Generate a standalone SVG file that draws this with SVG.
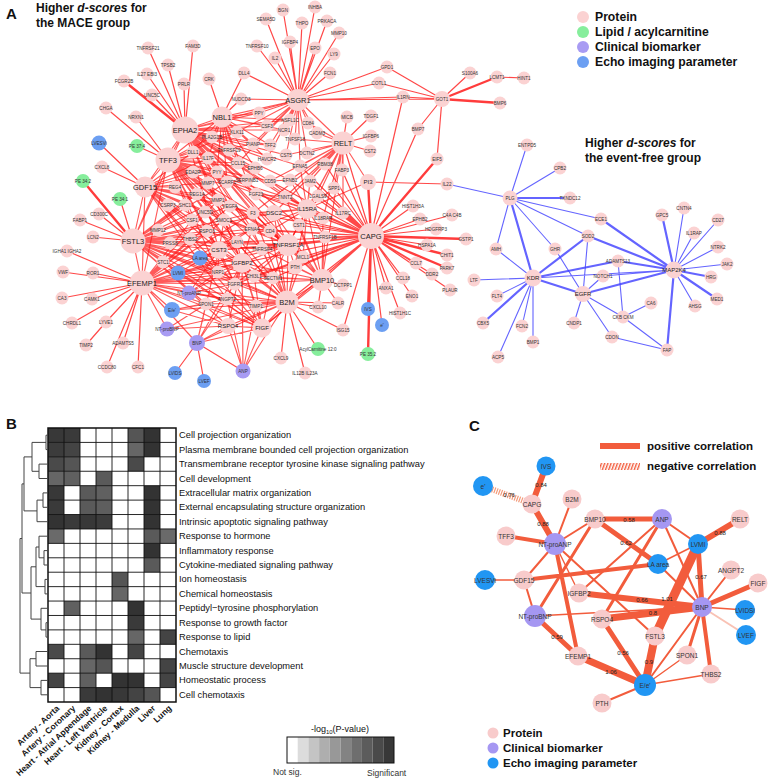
<svg xmlns="http://www.w3.org/2000/svg" width="770" height="784" viewBox="0 0 770 784">
<defs>
<style>
.ff{font-family:'Liberation Sans',Arial,sans-serif}
.p{fill:#fbd2d2}.l{fill:#86ee9c}.c{fill:#a89bf3}.e{fill:#6c9ff2}
.s{font-family:'Liberation Sans',Arial,sans-serif;font-size:4.6px;fill:#333;text-anchor:middle;dominant-baseline:central}
.m{font-family:'Liberation Sans',Arial,sans-serif;font-size:6px;fill:#222;text-anchor:middle;dominant-baseline:central}
.h{font-family:'Liberation Sans',Arial,sans-serif;font-size:7.5px;fill:#222;text-anchor:middle;dominant-baseline:central}
.ttl{font-family:'Liberation Sans',Arial,sans-serif;font-size:12px;font-weight:bold;fill:#111}
.pl{font-family:'Liberation Sans',Arial,sans-serif;font-size:15px;font-weight:bold;fill:#111}
.red{fill:none;stroke:#ff1a1a;stroke-opacity:.72;stroke-width:1.15}
.redw{fill:none;stroke:#ff1a1a;stroke-opacity:.8;stroke-width:1.2}
.redt{fill:none;stroke:#ff1a1a;stroke-opacity:.85;stroke-width:2.4}
.blu{fill:none;stroke:#3d3dff;stroke-opacity:.8;stroke-width:1.1}
.blut{fill:none;stroke:#3d3dff;stroke-opacity:.8;stroke-width:2.2}
.rl{font-family:'Liberation Sans',Arial,sans-serif;font-size:9.3px;fill:#111;dominant-baseline:central}
.cl{font-family:'Liberation Sans',Arial,sans-serif;font-size:8.5px;font-weight:bold;fill:#111;text-anchor:end}
.cp{fill:#f8cbcb}.cc{fill:#a597f2}.ce{fill:#2196f3}
.ct{font-family:'Liberation Sans',Arial,sans-serif;font-size:6.5px;fill:#333;text-anchor:middle;dominant-baseline:central}
.ew{font-family:'Liberation Sans',Arial,sans-serif;font-size:6px;fill:#222;text-anchor:middle;dominant-baseline:central}
.lg{font-family:'Liberation Sans',Arial,sans-serif;font-size:11.5px;font-weight:bold;fill:#111;dominant-baseline:central}
.lga{font-family:'Liberation Sans',Arial,sans-serif;font-size:12.2px;font-weight:bold;fill:#111;dominant-baseline:central}
.ce1{stroke:#f25c3c;fill:none}
</style>
<pattern id="hatch" width="3" height="3" patternUnits="userSpaceOnUse" patternTransform="rotate(20)"><rect width="1.4" height="3" fill="#f25c3c"/></pattern>
</defs>
<rect width="770" height="784" fill="#fff"/>

<!-- ================= PANEL A ================= -->
<text class="pl" x="6" y="19">A</text>
<text class="ttl" x="36" y="12">Higher <tspan font-style="italic">d-scores</tspan> for</text>
<text class="ttl" x="36" y="27">the MACE group</text>
<text class="ttl" x="585" y="147">Higher <tspan font-style="italic">d-scores</tspan> for</text>
<text class="ttl" x="585" y="162">the event-free group</text>
<g id="legendA">
<circle class="p" cx="583" cy="17" r="6"/><text class="lga" x="595" y="17">Protein</text>
<circle class="l" cx="583" cy="32" r="6"/><text class="lga" x="595" y="32">Lipid / acylcarnitine</text>
<circle class="c" cx="583" cy="47" r="6"/><text class="lga" x="595" y="47">Clinical biomarker</text>
<circle class="e" cx="583" cy="62" r="6"/><text class="lga" x="595" y="62">Echo imaging parameter</text>
</g>

<g id="connectorsA">
<path class="red" d="M185 130 259 113M185 130 290 120M185 130 267 126M185 130 284 130M185 130 237 132M185 130 212 137M185 130 253 144M185 130 270 145M185 130 229 150M185 130 208 158M185 130 267 159M185 130 286 155M185 130 238 163M185 130 255 168M185 130 300 166M185 130 217 172M185 130 227 182M185 130 247 180M185 130 270 181M185 130 290 180M185 130 208 183M185 130 256 194M185 130 285 197M185 130 218 200M185 130 230 206M185 130 253 213M185 130 274 213M185 130 224 220M185 130 299 225M185 130 252 229M185 130 270 231M185 130 237 242M185 130 262 249M185 130 303 257M185 130 307 209M185 130 288 245M185 130 242 263M185 130 219 250M185 130 222 117M185 130 298 100"/>
<path class="red" d="M168 160 237 132M168 160 212 137M168 160 253 144M168 160 229 150M168 160 193 152M168 160 208 158M168 160 238 163M168 160 255 168M168 160 217 172M168 160 193 172M168 160 227 182M168 160 247 180M168 160 270 181M168 160 208 183M168 160 197 194M168 160 256 194M168 160 218 200M168 160 230 206M168 160 253 213M168 160 205 212M168 160 192 220M168 160 224 220M168 160 252 229M168 160 270 231M168 160 207 231M168 160 237 242M168 160 262 249M168 160 218 272M168 160 254 276M168 160 273 278M168 160 235 284M168 160 242 263M168 160 219 250M168 160 288 245M168 160 287 302M168 160 307 209M168 160 285 197M168 160 185 130M168 160 222 117"/>
<path class="red" d="M145 187 193 152M145 187 208 158M145 187 217 172M145 187 193 172M145 187 227 182M145 187 208 183M145 187 197 194M145 187 175 187M145 187 218 200M145 187 168 205M145 187 185 205M145 187 230 206M145 187 205 212M145 187 192 220M145 187 224 220M145 187 207 231M145 187 190 239M145 187 237 242M145 187 218 272M145 187 235 284M145 187 227 299M145 187 219 250M145 187 242 263M145 187 253 213M145 187 252 229M145 187 168 160M145 187 185 130"/>
<path class="red" d="M133 241 227 182M133 241 208 183M133 241 197 194M133 241 218 200M133 241 185 205M133 241 230 206M133 241 253 213M133 241 205 212M133 241 192 220M133 241 224 220M133 241 158 230M133 241 252 229M133 241 207 231M133 241 190 239M133 241 170 243M133 241 237 242M133 241 262 249M133 241 163 262M133 241 218 272M133 241 254 276M133 241 273 278M133 241 235 284M133 241 227 299M133 241 206 304M133 241 256 306M133 241 228 326M133 241 219 250M133 241 242 263M133 241 288 245M133 241 287 302M133 241 262 328M133 241 200 258M133 241 178 273M133 241 270 231M133 241 274 213M133 241 168 160M133 241 145 187M133 241 185 130"/>
<path class="red" d="M142 283 192 220M142 283 224 220M142 283 207 231M142 283 190 239M142 283 237 242M142 283 262 249M142 283 163 262M142 283 218 272M142 283 254 276M142 283 273 278M142 283 235 284M142 283 227 299M142 283 206 304M142 283 256 306M142 283 228 326M142 283 218 200M142 283 230 206M142 283 253 213M142 283 252 229M142 283 219 250M142 283 242 263M142 283 262 328M142 283 287 302M142 283 288 245M142 283 200 258M142 283 178 273M142 283 189 293M142 283 172 310M142 283 167 329M142 283 197 343M142 283 295 267M142 283 133 241M142 283 168 160M142 283 145 187"/>
<path class="redw" d="M371 236 300 166M371 236 325 164M371 236 342 170M371 236 270 181M371 236 290 180M371 236 310 181M371 236 256 194M371 236 285 197M371 236 318 196M371 236 334 188M371 236 253 213M371 236 274 213M371 236 343 213M371 236 299 225M371 236 323 218M371 236 252 229M371 236 270 231M371 236 325 237M371 236 262 249M371 236 303 257M371 236 254 276M371 236 273 278M371 236 295 267M371 236 307 209M371 236 288 245M371 236 287 302M371 236 322 280M371 236 343 143M371 236 242 263M371 236 237 242M371 236 235 284M371 236 262 328M371 236 219 250"/>
<path class="red" d="M343 143 308 123M343 143 317 133M343 143 295 139M343 143 286 155M343 143 307 153M343 143 300 166M343 143 325 164M343 143 342 170M343 143 290 180M343 143 310 181M343 143 285 197M343 143 318 196M343 143 334 188M343 143 274 213M343 143 299 225M343 143 323 218M343 143 343 213M343 143 307 209M343 143 368 182M343 143 288 245M343 143 270 181M343 143 253 213M343 143 322 280"/>
<path class="red" d="M298 100 259 113M298 100 290 120M298 100 308 123M298 100 267 126M298 100 284 130M298 100 317 133M298 100 237 132M298 100 295 139M298 100 253 144M298 100 270 145M298 100 286 155M298 100 307 153M298 100 222 117M298 100 343 143M298 100 267 159M298 100 300 166M298 100 238 163"/>
<path class="red" d="M222 117 259 113M222 117 267 126M222 117 284 130M222 117 237 132M222 117 212 137M222 117 253 144M222 117 270 145M222 117 229 150M222 117 208 158M222 117 267 159M222 117 238 163M222 117 255 168M222 117 217 172M222 117 227 182M222 117 247 180M222 117 193 152M222 117 290 120"/>
<path class="red" d="M287 302 237 242M287 302 262 249M287 302 303 257M287 302 295 267M287 302 218 272M287 302 254 276M287 302 273 278M287 302 235 284M287 302 227 299M287 302 206 304M287 302 256 306M287 302 228 326M287 302 252 229M287 302 270 231M287 302 253 213M287 302 274 213M287 302 322 280M287 302 262 328M287 302 288 245M287 302 242 263M287 302 197 343M287 302 243 371M287 302 167 329M287 302 172 310M287 302 219 250M287 302 307 209"/>
<path class="red" d="M322 280 299 225M322 280 323 218M322 280 270 231M322 280 325 237M322 280 262 249M322 280 303 257M322 280 295 267M322 280 254 276M322 280 273 278M322 280 274 213M322 280 253 213M322 280 285 197M322 280 288 245M322 280 307 209M322 280 242 263M322 280 235 284M322 280 262 328"/>
<path class="red" d="M307 209 270 181M307 209 290 180M307 209 310 181M307 209 256 194M307 209 285 197M307 209 318 196M307 209 334 188M307 209 253 213M307 209 274 213M307 209 299 225M307 209 323 218M307 209 252 229M307 209 270 231M307 209 325 237M307 209 303 257M307 209 288 245M307 209 300 166M307 209 368 182"/>
<path class="red" d="M288 245 252 229M288 245 270 231M288 245 237 242M288 245 262 249M288 245 303 257M288 245 295 267M288 245 254 276M288 245 273 278M288 245 235 284M288 245 299 225M288 245 274 213M288 245 253 213M288 245 242 263M288 245 219 250M288 245 230 206M288 245 224 220"/>
<path class="red" d="M242 263 219 250M242 263 237 242M242 263 218 272M242 263 254 276M242 263 273 278M242 263 235 284M242 263 227 299M242 263 256 306M242 263 228 326M242 263 262 328M242 263 200 258M242 263 189 293M242 263 178 273M242 263 252 229M242 263 224 220M262 328 227 299M262 328 206 304M262 328 256 306M262 328 228 326M262 328 254 276M262 328 273 278M262 328 235 284M262 328 197 343M262 328 243 371M262 328 178 273M262 328 200 258M197 343 228 326M197 343 227 299M197 343 206 304M197 343 242 263M197 343 219 250M243 371 228 326M243 371 256 306M243 371 227 299M243 371 242 263M189 293 219 250M189 293 218 272M189 293 235 284M189 293 227 299M178 273 219 250M178 273 218 272M172 310 206 304M172 310 228 326M172 310 227 299M167 329 206 304M167 329 228 326M200 258 237 242M200 258 218 272M219 250 207 231M219 250 190 239M219 250 237 242M219 250 218 272M219 250 235 284M219 250 224 220M219 250 252 229M230 206 253 213M224 220 252 229M207 231 237 242M253 213 274 213M252 229 270 231M270 181 290 180M256 194 285 197M227 182 247 180M238 163 255 168M212 137 237 132M253 144 270 145"/>
<path class="redw" d="M185 130 148 48M185 130 193 46M185 130 168 65M185 130 147 74M185 130 184 84M185 130 152 95M168 160 106 108M168 160 136 117M168 160 137 146M222 117 209 79M222 117 244 73M222 117 241 99M298 100 266 19M298 100 283 10M298 100 315 7M298 100 302 23M298 100 327 21M298 100 290 42M298 100 339 33M298 100 257 46M298 100 315 48M298 100 334 54M298 100 275 58M298 100 330 73M298 100 244 73M298 100 241 99M298 100 387 67M298 100 379 83M298 100 403 97M298 100 442 99M387 67 442 99M379 83 442 99M403 97 442 99M442 99 470 73M442 99 418 129M442 99 437 159M497 77 524 78M343 143 347 117M343 143 371 116M343 143 371 136M343 143 370 151M145 187 99 143M145 187 102 167M133 241 120 199M133 241 99 214M133 241 80 220M133 241 93 237M142 283 67 251M142 283 63 272M142 283 93 273M142 283 62 298M142 283 92 299M142 283 72 323M142 283 106 322M142 283 123 343M142 283 107 367M142 283 138 367M106 322 86 345M371 236 413 206M371 236 452 215M371 236 420 219M371 236 436 229M371 236 427 245M371 236 416 263M371 236 432 274M371 236 403 278M371 236 450 290M371 236 412 296M371 236 386 288M371 236 400 313M371 236 382 325M371 236 343 330M371 236 403 97M371 236 418 129M368 182 447 184M287 302 281 358M287 302 318 349M287 302 305 373M287 302 318 307M287 302 338 303M287 302 343 330M322 280 343 285M322 280 318 307M322 280 338 303M197 343 175 373M197 343 204 381M197 343 243 371"/>
<path class="redt" d="M185 130 124 81M442 99 497 77M442 99 500 103M133 241 83 181M371 236 466 239M371 236 447 255M371 236 447 268M371 236 368 309M371 236 368 354M371 236 437 159M371 236 368 182"/>
<path class="blu" d="M510 198 527 145M510 198 560 168M510 198 601 219M510 198 555 249M510 198 496 249M510 198 447 184M533 278 496 249M533 278 474 280M533 278 497 296M533 278 522 326M533 278 533 342M533 278 498 357M533 278 674 270M555 249 583 294M588 236 583 294M583 294 603 276M583 294 574 323M583 294 612 337M583 294 623 317M618 261 623 317M603 276 674 270M623 317 651 303M623 317 667 350M612 337 667 350M674 270 684 208M674 270 718 220M674 270 694 233M674 270 718 247M674 270 727 264M674 270 695 306M510 198 588 236"/>
<path class="blut" d="M510 198 570 198M510 198 533 278M533 278 483 323M533 278 588 236M533 278 583 294M533 278 618 261M588 236 674 270M601 219 674 270M583 294 674 270M618 261 674 270M674 270 667 350M674 270 662 215M674 270 711 277M674 270 717 299"/>
</g>

<g id="nodesA">
<g id="a-tnfrsf21"><circle class="p" cx="148" cy="48" r="6.5"/><text class="s" x="148" y="48">TNFRSF21</text></g>
<g id="a-fam3d"><circle class="p" cx="193" cy="46" r="6.5"/><text class="s" x="193" y="46">FAM3D</text></g>
<g id="a-tpsb2"><circle class="p" cx="168" cy="65" r="6.5"/><text class="s" x="168" y="65">TPSB2</text></g>
<g id="a-il27"><circle class="p" cx="147" cy="74" r="6.5"/><text class="s" x="147" y="74">IL27 EBI3</text></g>
<g id="a-prlr"><circle class="p" cx="184" cy="84" r="6.5"/><text class="s" x="184" y="84">PRLR</text></g>
<g id="a-crk"><circle class="p" cx="209" cy="79" r="6.5"/><text class="s" x="209" y="79">CRK</text></g>
<g id="a-fcgr2b"><circle class="p" cx="124" cy="81" r="6.5"/><text class="s" x="124" y="81">FCGR2B</text></g>
<g id="a-unc5c"><circle class="p" cx="152" cy="95" r="6.5"/><text class="s" x="152" y="95">UNC5C</text></g>
<g id="a-chga"><circle class="p" cx="106" cy="108" r="6.5"/><text class="s" x="106" y="108">CHGA</text></g>
<g id="a-nrxn1"><circle class="p" cx="136" cy="117" r="6.5"/><text class="s" x="136" y="117">NRXN1</text></g>
<g id="a-lvesvi"><circle class="e" cx="99" cy="143" r="7.5"/><text class="s" x="99" y="143">LVESVi</text></g>
<g id="a-pe374"><circle class="l" cx="137" cy="146" r="7"/><text class="s" x="137" y="146">PE 37:4</text></g>
<g id="a-cxcl8"><circle class="p" cx="102" cy="167" r="6.5"/><text class="s" x="102" y="167">CXCL8</text></g>
<g id="a-pe342"><circle class="l" cx="83" cy="181" r="7"/><text class="s" x="83" y="181">PE 34:2</text></g>
<g id="a-pe341"><circle class="l" cx="120" cy="199" r="7"/><text class="s" x="120" y="199">PE 34:1</text></g>
<g id="a-cd300c"><circle class="p" cx="99" cy="214" r="6.5"/><text class="s" x="99" y="214">CD300C</text></g>
<g id="a-fabp1"><circle class="p" cx="80" cy="220" r="6.5"/><text class="s" x="80" y="220">FABP1</text></g>
<g id="a-lcn2"><circle class="p" cx="93" cy="237" r="6.5"/><text class="s" x="93" y="237">LCN2</text></g>
<g id="a-igha"><circle class="p" cx="67" cy="251" r="6.5"/><text class="s" x="67" y="251">IGHA1 IGHA2</text></g>
<g id="a-vwf"><circle class="p" cx="63" cy="272" r="6.5"/><text class="s" x="63" y="272">VWF</text></g>
<g id="a-ror1"><circle class="p" cx="93" cy="273" r="6.5"/><text class="s" x="93" y="273">ROR1</text></g>
<g id="a-ca3"><circle class="p" cx="62" cy="298" r="6.5"/><text class="s" x="62" y="298">CA3</text></g>
<g id="a-camk1"><circle class="p" cx="92" cy="299" r="6.5"/><text class="s" x="92" y="299">CAMK1</text></g>
<g id="a-chrdl1"><circle class="p" cx="72" cy="323" r="6.5"/><text class="s" x="72" y="323">CHRDL1</text></g>
<g id="a-lyve1"><circle class="p" cx="106" cy="322" r="6.5"/><text class="s" x="106" y="322">LYVE1</text></g>
<g id="a-timp2"><circle class="p" cx="86" cy="345" r="6.5"/><text class="s" x="86" y="345">TIMP2</text></g>
<g id="a-adamts5"><circle class="p" cx="123" cy="343" r="6.5"/><text class="s" x="123" y="343">ADAMTS5</text></g>
<g id="a-ccdc80"><circle class="p" cx="107" cy="367" r="6.5"/><text class="s" x="107" y="367">CCDC80</text></g>
<g id="a-cfc1"><circle class="p" cx="138" cy="367" r="6.5"/><text class="s" x="138" y="367">CFC1</text></g>
<g id="a-dll4"><circle class="p" cx="244" cy="73" r="6.5"/><text class="s" x="244" y="73">DLL4</text></g>
<g id="a-nudcd3"><circle class="p" cx="241" cy="99" r="6.5"/><text class="s" x="241" y="99">NUDCD3</text></g>
<g id="a-sema5d"><circle class="p" cx="266" cy="19" r="6.5"/><text class="s" x="266" y="19">SEMA5D</text></g>
<g id="a-bgn"><circle class="p" cx="283" cy="10" r="6.5"/><text class="s" x="283" y="10">BGN</text></g>
<g id="a-inhba"><circle class="p" cx="315" cy="7" r="6.5"/><text class="s" x="315" y="7">INHBA</text></g>
<g id="a-thpo"><circle class="p" cx="302" cy="23" r="6.5"/><text class="s" x="302" y="23">THPO</text></g>
<g id="a-prkaca"><circle class="p" cx="327" cy="21" r="6.5"/><text class="s" x="327" y="21">PRKACA</text></g>
<g id="a-igfbp4"><circle class="p" cx="290" cy="42" r="6.5"/><text class="s" x="290" y="42">IGFBP4</text></g>
<g id="a-mmp10"><circle class="p" cx="339" cy="33" r="6.5"/><text class="s" x="339" y="33">MMP10</text></g>
<g id="a-tnfrsf10"><circle class="p" cx="257" cy="46" r="6.5"/><text class="s" x="257" y="46">TNFRSF10</text></g>
<g id="a-epo"><circle class="p" cx="315" cy="48" r="6.5"/><text class="s" x="315" y="48">EPO</text></g>
<g id="a-ly9"><circle class="p" cx="334" cy="54" r="6.5"/><text class="s" x="334" y="54">LY9</text></g>
<g id="a-il2"><circle class="p" cx="275" cy="58" r="6.5"/><text class="s" x="275" y="58">IL2</text></g>
<g id="a-fcn1"><circle class="p" cx="330" cy="73" r="6.5"/><text class="s" x="330" y="73">FCN1</text></g>
<g id="a-gpd1"><circle class="p" cx="387" cy="67" r="6.5"/><text class="s" x="387" y="67">GPD1</text></g>
<g id="a-cotl1"><circle class="p" cx="379" cy="83" r="6.5"/><text class="s" x="379" y="83">COTL1</text></g>
<g id="a-il1rn"><circle class="p" cx="403" cy="97" r="6.5"/><text class="s" x="403" y="97">IL1RN</text></g>
<g id="a-got1"><circle class="p" cx="442" cy="99" r="8"/><text class="s" x="442" y="99">GOT1</text></g>
<g id="a-s100a6"><circle class="p" cx="470" cy="73" r="6.5"/><text class="s" x="470" y="73">S100A6</text></g>
<g id="a-lcmt1"><circle class="p" cx="497" cy="77" r="6.5"/><text class="s" x="497" y="77">LCMT1</text></g>
<g id="a-hint1"><circle class="p" cx="524" cy="78" r="6.5"/><text class="s" x="524" y="78">HINT1</text></g>
<g id="a-bmp6"><circle class="p" cx="500" cy="103" r="6.5"/><text class="s" x="500" y="103">BMP6</text></g>
<g id="a-bmp7"><circle class="p" cx="418" cy="129" r="6.5"/><text class="s" x="418" y="129">BMP7</text></g>
<g id="a-eif5"><circle class="p" cx="437" cy="159" r="6.5"/><text class="s" x="437" y="159">EIF5</text></g>
<g id="a-il22"><circle class="p" cx="447" cy="184" r="6.5"/><text class="s" x="447" y="184">IL22</text></g>
<g id="a-micb"><circle class="p" cx="347" cy="117" r="6.5"/><text class="s" x="347" y="117">MICB</text></g>
<g id="a-tdgf1"><circle class="p" cx="371" cy="116" r="6.5"/><text class="s" x="371" y="116">TDGF1</text></g>
<g id="a-igfbp6"><circle class="p" cx="371" cy="136" r="6.5"/><text class="s" x="371" y="136">IGFBP6</text></g>
<g id="a-cst2"><circle class="p" cx="370" cy="151" r="6.5"/><text class="s" x="370" y="151">CST2</text></g>
<g id="a-hist1h3a"><circle class="p" cx="413" cy="206" r="6.5"/><text class="s" x="413" y="206">HIST1H3A</text></g>
<g id="a-c4a"><circle class="p" cx="452" cy="215" r="6.5"/><text class="s" x="452" y="215">C4A C4B</text></g>
<g id="a-ephb2"><circle class="p" cx="420" cy="219" r="6.5"/><text class="s" x="420" y="219">EPHB2</text></g>
<g id="a-hdgfrp3"><circle class="p" cx="436" cy="229" r="6.5"/><text class="s" x="436" y="229">HDGFRP3</text></g>
<g id="a-gstp1"><circle class="p" cx="466" cy="239" r="6.5"/><text class="s" x="466" y="239">GSTP1</text></g>
<g id="a-hspa1a"><circle class="p" cx="427" cy="245" r="6.5"/><text class="s" x="427" y="245">HSPA1A</text></g>
<g id="a-chit1"><circle class="p" cx="447" cy="255" r="6.5"/><text class="s" x="447" y="255">CHIT1</text></g>
<g id="a-ccl7"><circle class="p" cx="416" cy="263" r="6.5"/><text class="s" x="416" y="263">CCL7</text></g>
<g id="a-park7"><circle class="p" cx="447" cy="268" r="6.5"/><text class="s" x="447" y="268">PARK7</text></g>
<g id="a-ddr2"><circle class="p" cx="432" cy="274" r="6.5"/><text class="s" x="432" y="274">DDR2</text></g>
<g id="a-ccl18"><circle class="p" cx="403" cy="278" r="6.5"/><text class="s" x="403" y="278">CCL18</text></g>
<g id="a-plaur"><circle class="p" cx="450" cy="290" r="6.5"/><text class="s" x="450" y="290">PLAUR</text></g>
<g id="a-eno1"><circle class="p" cx="412" cy="296" r="6.5"/><text class="s" x="412" y="296">ENO1</text></g>
<g id="a-anxa1"><circle class="p" cx="386" cy="288" r="6.5"/><text class="s" x="386" y="288">ANXA1</text></g>
<g id="a-hist1h1c"><circle class="p" cx="400" cy="313" r="6.5"/><text class="s" x="400" y="313">HIST1H1C</text></g>
<g id="a-ivs"><circle class="e" cx="368" cy="309" r="7"/><text class="s" x="368" y="309">IVS</text></g>
<g id="a-ep"><circle class="e" cx="382" cy="325" r="7"/><text class="s" x="382" y="325">e'</text></g>
<g id="a-pe352"><circle class="l" cx="368" cy="354" r="7"/><text class="s" x="368" y="354">PE 35:2</text></g>
<g id="a-isg15"><circle class="p" cx="343" cy="330" r="6.5"/><text class="s" x="343" y="330">ISG15</text></g>
<g id="a-cxcl9"><circle class="p" cx="281" cy="358" r="6.5"/><text class="s" x="281" y="358">CXCL9</text></g>
<g id="a-acyl"><circle class="l" cx="318" cy="349" r="7"/><text class="s" x="318" y="349">AcylCarnitine 12:0</text></g>
<g id="a-il12b"><circle class="p" cx="305" cy="373" r="6.5"/><text class="s" x="305" y="373">IL12B IL23A</text></g>
<g id="a-cxcl10"><circle class="p" cx="318" cy="307" r="6.5"/><text class="s" x="318" y="307">CXCL10</text></g>
<g id="a-calr"><circle class="p" cx="338" cy="303" r="6.5"/><text class="s" x="338" y="303">CALR</text></g>
<g id="a-dctpp1"><circle class="p" cx="343" cy="285" r="6.5"/><text class="s" x="343" y="285">DCTPP1</text></g>

<g id="a-ppy"><circle class="p" cx="259" cy="113" r="6.5"/><text class="s" x="259" y="113">PPY</text></g>
<g id="a-nsfl1c"><circle class="p" cx="290" cy="120" r="6.5"/><text class="s" x="290" y="120">NSFL1C</text></g>
<g id="a-cd84"><circle class="p" cx="308" cy="123" r="6.5"/><text class="s" x="308" y="123">CD84</text></g>
<g id="a-csf3"><circle class="p" cx="267" cy="126" r="6.5"/><text class="s" x="267" y="126">CSF3</text></g>
<g id="a-ncr1"><circle class="p" cx="284" cy="130" r="6.5"/><text class="s" x="284" y="130">NCR1</text></g>
<g id="a-cadm3"><circle class="p" cx="317" cy="133" r="6.5"/><text class="s" x="317" y="133">CADM3</text></g>
<g id="a-klk11"><circle class="p" cx="237" cy="132" r="6.5"/><text class="s" x="237" y="132">KLK11</text></g>
<g id="a-pla2g1b"><circle class="p" cx="212" cy="137" r="6.5"/><text class="s" x="212" y="137">PLA2G1B</text></g>
<g id="a-tnfsf18"><circle class="p" cx="295" cy="139" r="6.5"/><text class="s" x="295" y="139">TNFSF18</text></g>
<g id="a-pianp"><circle class="p" cx="253" cy="144" r="6.5"/><text class="s" x="253" y="144">PIANP</text></g>
<g id="a-tff2"><circle class="p" cx="270" cy="145" r="6.5"/><text class="s" x="270" y="145">TFF2</text></g>
<g id="a-tnfrsf19"><circle class="p" cx="229" cy="150" r="6.5"/><text class="s" x="229" y="150">TNFRSF19</text></g>
<g id="a-dll1"><circle class="p" cx="193" cy="152" r="6.5"/><text class="s" x="193" y="152">DLL1</text></g>
<g id="a-il17f"><circle class="p" cx="208" cy="158" r="6.5"/><text class="s" x="208" y="158">IL17F</text></g>
<g id="a-havcr2"><circle class="p" cx="267" cy="159" r="6.5"/><text class="s" x="267" y="159">HAVCR2</text></g>
<g id="a-cst5"><circle class="p" cx="286" cy="155" r="6.5"/><text class="s" x="286" y="155">CST5</text></g>
<g id="a-dctn2"><circle class="p" cx="307" cy="153" r="6.5"/><text class="s" x="307" y="153">DCTN2</text></g>
<g id="a-ccl15"><circle class="p" cx="238" cy="163" r="6.5"/><text class="s" x="238" y="163">CCL15</text></g>
<g id="a-ephb6"><circle class="p" cx="255" cy="168" r="6.5"/><text class="s" x="255" y="168">EPHB6</text></g>
<g id="a-efna5"><circle class="p" cx="300" cy="166" r="6.5"/><text class="s" x="300" y="166">EFNA5</text></g>
<g id="a-rbm38"><circle class="p" cx="325" cy="164" r="6.5"/><text class="s" x="325" y="164">RBM38</text></g>
<g id="a-fabp3"><circle class="p" cx="342" cy="170" r="6.5"/><text class="s" x="342" y="170">FABP3</text></g>
<g id="a-pyy"><circle class="p" cx="217" cy="172" r="6.5"/><text class="s" x="217" y="172">PYY</text></g>
<g id="a-eda2r"><circle class="p" cx="193" cy="172" r="6.5"/><text class="s" x="193" y="172">EDA2R</text></g>
<g id="a-scarf1"><circle class="p" cx="227" cy="182" r="6.5"/><text class="s" x="227" y="182">SCARF1</text></g>
<g id="a-serpinb1"><circle class="p" cx="247" cy="180" r="6.5"/><text class="s" x="247" y="180">SERPINB1</text></g>
<g id="a-cd59"><circle class="p" cx="270" cy="181" r="6.5"/><text class="s" x="270" y="181">CD59</text></g>
<g id="a-efnb1"><circle class="p" cx="290" cy="180" r="6.5"/><text class="s" x="290" y="180">EFNB1</text></g>
<g id="a-jam2"><circle class="p" cx="310" cy="181" r="6.5"/><text class="s" x="310" y="181">JAM2</text></g>
<g id="a-mmp7"><circle class="p" cx="208" cy="183" r="6.5"/><text class="s" x="208" y="183">MMP7</text></g>
<g id="a-reg1a"><circle class="p" cx="197" cy="194" r="6.5"/><text class="s" x="197" y="194">REG1A</text></g>
<g id="a-reg4"><circle class="p" cx="175" cy="187" r="6.5"/><text class="s" x="175" y="187">REG4</text></g>
<g id="a-fgf23"><circle class="p" cx="256" cy="194" r="6.5"/><text class="s" x="256" y="194">FGF23</text></g>
<g id="a-tnnt2"><circle class="p" cx="285" cy="197" r="6.5"/><text class="s" x="285" y="197">TNNT2</text></g>
<g id="a-lgals9"><circle class="p" cx="318" cy="196" r="6.5"/><text class="s" x="318" y="196">LGALS9</text></g>
<g id="a-spp1"><circle class="p" cx="334" cy="188" r="6.5"/><text class="s" x="334" y="188">SPP1</text></g>
<g id="a-mmp1"><circle class="p" cx="218" cy="200" r="6.5"/><text class="s" x="218" y="200">MMP1</text></g>
<g id="a-csrp3"><circle class="p" cx="168" cy="205" r="6.5"/><text class="s" x="168" y="205">CSRP3</text></g>
<g id="a-shc1"><circle class="p" cx="185" cy="205" r="6.5"/><text class="s" x="185" y="205">SHC1</text></g>
<g id="a-vegfa"><circle class="p" cx="230" cy="206" r="6.5"/><text class="s" x="230" y="206">VEGFA</text></g>
<g id="a-f3"><circle class="p" cx="253" cy="213" r="6.5"/><text class="s" x="253" y="213">F3</text></g>
<g id="a-dsc2"><circle class="p" cx="274" cy="213" r="8"/><text class="m" x="274" y="213">DSC2</text></g>
<g id="a-il17rc"><circle class="p" cx="343" cy="213" r="6.5"/><text class="s" x="343" y="213">IL17RC</text></g>
<g id="a-unc5d"><circle class="p" cx="205" cy="212" r="6.5"/><text class="s" x="205" y="212">UNC5D</text></g>
<g id="a-csf1"><circle class="p" cx="192" cy="220" r="6.5"/><text class="s" x="192" y="220">CSF1</text></g>
<g id="a-smoc1"><circle class="p" cx="224" cy="220" r="6.5"/><text class="s" x="224" y="220">SMOC1</text></g>
<g id="a-cst1"><circle class="p" cx="299" cy="225" r="6.5"/><text class="s" x="299" y="225">CST1</text></g>
<g id="a-il18rap"><circle class="p" cx="323" cy="218" r="6.5"/><text class="s" x="323" y="218">IL18RAP</text></g>
<g id="a-mmp12"><circle class="p" cx="158" cy="230" r="6.5"/><text class="s" x="158" y="230">MMP12</text></g>
<g id="a-efna4"><circle class="p" cx="252" cy="229" r="6.5"/><text class="s" x="252" y="229">EFNA4</text></g>
<g id="a-cd4"><circle class="p" cx="270" cy="231" r="6.5"/><text class="s" x="270" y="231">CD4</text></g>
<g id="a-rspo3"><circle class="p" cx="207" cy="231" r="6.5"/><text class="s" x="207" y="231">RSPO3</text></g>
<g id="a-tnfrsf1b"><circle class="p" cx="325" cy="237" r="6.5"/><text class="s" x="325" y="237">TNFRSF1B</text></g>
<g id="a-thbs2"><circle class="p" cx="190" cy="239" r="6.5"/><text class="s" x="190" y="239">THBS2</text></g>
<g id="a-prss8"><circle class="p" cx="170" cy="243" r="6.5"/><text class="s" x="170" y="243">PRSS8</text></g>
<g id="a-layn"><circle class="p" cx="237" cy="242" r="6.5"/><text class="s" x="237" y="242">LAYN</text></g>
<g id="a-tnfrsf4"><circle class="p" cx="262" cy="249" r="6.5"/><text class="s" x="262" y="249">TNFRSF4</text></g>
<g id="a-mcl1"><circle class="p" cx="303" cy="257" r="6.5"/><text class="s" x="303" y="257">MCL1</text></g>
<g id="a-stc1"><circle class="p" cx="163" cy="262" r="6.5"/><text class="s" x="163" y="262">STC1</text></g>
<g id="a-pth"><circle class="p" cx="295" cy="267" r="7.5"/><text class="s" x="295" y="267">PTH</text></g>
<g id="a-nrp1"><circle class="p" cx="218" cy="272" r="6.5"/><text class="s" x="218" y="272">NRP1</text></g>
<g id="a-chi3l1"><circle class="p" cx="254" cy="276" r="6.5"/><text class="s" x="254" y="276">CHI3L1</text></g>
<g id="a-sectm1"><circle class="p" cx="273" cy="278" r="6.5"/><text class="s" x="273" y="278">SECTM1</text></g>
<g id="a-fgfr1"><circle class="p" cx="235" cy="284" r="6.5"/><text class="s" x="235" y="284">FGFR1</text></g>
<g id="a-angpt2"><circle class="p" cx="227" cy="299" r="6.5"/><text class="s" x="227" y="299">ANGPT2</text></g>
<g id="a-spon1"><circle class="p" cx="206" cy="304" r="6.5"/><text class="s" x="206" y="304">SPON1</text></g>
<g id="a-timp1"><circle class="p" cx="256" cy="306" r="6.5"/><text class="s" x="256" y="306">TIMP1</text></g>
<g id="a-rspo4"><circle class="p" cx="228" cy="326" r="8"/><text class="m" x="228" y="326">RSPO4</text></g>

<g id="a-la"><circle class="e" cx="200" cy="258" r="7.5"/><text class="s" x="200" y="258">LA area</text></g>
<g id="a-lvmi"><circle class="e" cx="178" cy="273" r="7.5"/><text class="s" x="178" y="273">LVMI</text></g>
<g id="a-ntproanp"><circle class="c" cx="189" cy="293" r="7.5"/><text class="s" x="189" y="293">NT-proANP</text></g>
<g id="a-ee"><circle class="e" cx="172" cy="310" r="8"/><text class="s" x="172" y="310">E/e'</text></g>
<g id="a-ntprobnp"><circle class="c" cx="167" cy="329" r="7.5"/><text class="s" x="167" y="329">NT-proBNP</text></g>
<g id="a-bnp"><circle class="c" cx="197" cy="343" r="8"/><text class="s" x="197" y="343">BNP</text></g>
<g id="a-lvids"><circle class="e" cx="175" cy="373" r="7"/><text class="s" x="175" y="373">LVIDS</text></g>
<g id="a-lvef"><circle class="e" cx="204" cy="381" r="7"/><text class="s" x="204" y="381">LVEF</text></g>
<g id="a-anp"><circle class="c" cx="243" cy="371" r="7.5"/><text class="s" x="243" y="371">ANP</text></g>

<g id="a-il15ra"><circle class="p" cx="307" cy="209" r="10"/><text class="m" x="307" y="209">IL15RA</text></g>
<g id="a-tnfrsf1a"><circle class="p" cx="288" cy="245" r="11"/><text class="m" x="288" y="245">TNFRSF1A</text></g>
<g id="a-igfbp2"><circle class="p" cx="242" cy="263" r="10"/><text class="m" x="242" y="263">IGFBP2</text></g>
<g id="a-cst3"><circle class="p" cx="219" cy="250" r="9"/><text class="m" x="219" y="250">CST3</text></g>
<g id="a-figf"><circle class="p" cx="262" cy="328" r="9.5"/><text class="m" x="262" y="328">FIGF</text></g>
<g id="a-pi3"><circle class="p" cx="368" cy="182" r="8"/><text class="m" x="368" y="182">PI3</text></g>
<g id="a-b2m"><circle class="p" cx="287" cy="302" r="11.5"/><text class="h" x="287" y="302">B2M</text></g>
<g id="a-bmp10"><circle class="p" cx="322" cy="280" r="11"/><text class="h" x="322" y="280">BMP10</text></g>
<g id="a-nbl1"><circle class="p" cx="222" cy="117" r="10.5"/><text class="h" x="222" y="117">NBL1</text></g>
<g id="a-asgr1"><circle class="p" cx="298" cy="100" r="11"/><text class="h" x="298" y="100">ASGR1</text></g>
<g id="a-relt"><circle class="p" cx="343" cy="143" r="11.5"/><text class="h" x="343" y="143">RELT</text></g>
<g id="a-epha2"><circle class="p" cx="185" cy="130" r="13.5"/><text class="h" x="185" y="130">EPHA2</text></g>
<g id="a-tff3"><circle class="p" cx="168" cy="160" r="12.5"/><text class="h" x="168" y="160">TFF3</text></g>
<g id="a-gdf15"><circle class="p" cx="145" cy="187" r="10.5"/><text class="h" x="145" y="187">GDF15</text></g>
<g id="a-fstl3"><circle class="p" cx="133" cy="241" r="12.5"/><text class="h" x="133" y="241">FSTL3</text></g>
<g id="a-efemp1"><circle class="p" cx="142" cy="283" r="12.5"/><text class="h" x="142" y="283">EFEMP1</text></g>
<g id="a-capg"><circle class="p" cx="371" cy="236" r="13"/><text class="h" x="371" y="236">CAPG</text></g>

<g id="a-entpd5"><circle class="p" cx="527" cy="145" r="6.5"/><text class="s" x="527" y="145">ENTPD5</text></g>
<g id="a-cpb2"><circle class="p" cx="560" cy="168" r="6.5"/><text class="s" x="560" y="168">CPB2</text></g>
<g id="a-plg"><circle class="p" cx="510" cy="198" r="7.5"/><text class="s" x="510" y="198">PLG</text></g>
<g id="a-txndc12"><circle class="p" cx="570" cy="198" r="6.5"/><text class="s" x="570" y="198">TXNDC12</text></g>
<g id="a-ece1"><circle class="p" cx="601" cy="219" r="6.5"/><text class="s" x="601" y="219">ECE1</text></g>
<g id="a-sod2"><circle class="p" cx="588" cy="236" r="6.5"/><text class="s" x="588" y="236">SOD2</text></g>
<g id="a-gpc5"><circle class="p" cx="662" cy="215" r="6.5"/><text class="s" x="662" y="215">GPC5</text></g>
<g id="a-cntn4"><circle class="p" cx="684" cy="208" r="6.5"/><text class="s" x="684" y="208">CNTN4</text></g>
<g id="a-cd27"><circle class="p" cx="718" cy="220" r="6.5"/><text class="s" x="718" y="220">CD27</text></g>
<g id="a-il1rap"><circle class="p" cx="694" cy="233" r="6.5"/><text class="s" x="694" y="233">IL1RAP</text></g>
<g id="a-ntrk2"><circle class="p" cx="718" cy="247" r="6.5"/><text class="s" x="718" y="247">NTRK2</text></g>
<g id="a-jak2"><circle class="p" cx="727" cy="264" r="6.5"/><text class="s" x="727" y="264">JAK2</text></g>
<g id="a-map2k4"><circle class="p" cx="674" cy="270" r="8.5"/><text class="m" x="674" y="270">MAP2K4</text></g>
<g id="a-hrg"><circle class="p" cx="711" cy="277" r="6.5"/><text class="s" x="711" y="277">HRG</text></g>
<g id="a-med1"><circle class="p" cx="717" cy="299" r="6.5"/><text class="s" x="717" y="299">MED1</text></g>
<g id="a-ahsg"><circle class="p" cx="695" cy="306" r="6.5"/><text class="s" x="695" y="306">AHSG</text></g>
<g id="a-amh"><circle class="p" cx="496" cy="249" r="6.5"/><text class="s" x="496" y="249">AMH</text></g>
<g id="a-ghr"><circle class="p" cx="555" cy="249" r="6.5"/><text class="s" x="555" y="249">GHR</text></g>
<g id="a-adamts13"><circle class="p" cx="618" cy="261" r="6.5"/><text class="s" x="618" y="261">ADAMTS13</text></g>
<g id="a-notch1"><circle class="p" cx="603" cy="276" r="6.5"/><text class="s" x="603" y="276">NOTCH1</text></g>
<g id="a-kdr"><circle class="p" cx="533" cy="278" r="8.5"/><text class="m" x="533" y="278">KDR</text></g>
<g id="a-ltf"><circle class="p" cx="474" cy="280" r="6.5"/><text class="s" x="474" y="280">LTF</text></g>
<g id="a-egfr"><circle class="p" cx="583" cy="294" r="8"/><text class="m" x="583" y="294">EGFR</text></g>
<g id="a-flt4"><circle class="p" cx="497" cy="296" r="6.5"/><text class="s" x="497" y="296">FLT4</text></g>
<g id="a-ca6"><circle class="p" cx="651" cy="303" r="6.5"/><text class="s" x="651" y="303">CA6</text></g>
<g id="a-ckb"><circle class="p" cx="623" cy="317" r="6.5"/><text class="s" x="623" y="317">CKB CKM</text></g>
<g id="a-cndp1"><circle class="p" cx="574" cy="323" r="6.5"/><text class="s" x="574" y="323">CNDP1</text></g>
<g id="a-cbx5"><circle class="p" cx="483" cy="323" r="6.5"/><text class="s" x="483" y="323">CBX5</text></g>
<g id="a-fcn2"><circle class="p" cx="522" cy="326" r="6.5"/><text class="s" x="522" y="326">FCN2</text></g>
<g id="a-cdon"><circle class="p" cx="612" cy="337" r="6.5"/><text class="s" x="612" y="337">CDON</text></g>
<g id="a-bmp1"><circle class="p" cx="533" cy="342" r="6.5"/><text class="s" x="533" y="342">BMP1</text></g>
<g id="a-fap"><circle class="p" cx="667" cy="350" r="6.5"/><text class="s" x="667" y="350">FAP</text></g>
<g id="a-acp5"><circle class="p" cx="498" cy="357" r="6.5"/><text class="s" x="498" y="357">ACP5</text></g>
</g>

<!-- ================= PANEL B ================= -->
<text class="pl" x="6" y="429">B</text>
<g id="heatmap">
<rect x="48" y="428" width="128" height="274" fill="#fff"/>
<rect x="48" y="428" width="16" height="14.5" fill="#383838"/><rect x="64" y="428" width="16" height="14.5" fill="#3a3a3a"/><rect x="128" y="428" width="16" height="14.5" fill="#555"/><rect x="144" y="428" width="16" height="14.5" fill="#333"/>
<rect x="48" y="442.42" width="16" height="14.5" fill="#3c3c3c"/><rect x="64" y="442.42" width="16" height="14.5" fill="#444"/><rect x="128" y="442.42" width="16" height="14.5" fill="#666"/><rect x="144" y="442.42" width="16" height="14.5" fill="#333"/>
<rect x="48" y="456.84" width="16" height="14.5" fill="#4a4a4a"/><rect x="64" y="456.84" width="16" height="14.5" fill="#555"/><rect x="128" y="456.84" width="16" height="14.5" fill="#4a4a4a"/>
<rect x="48" y="471.26" width="16" height="14.5" fill="#666"/><rect x="64" y="471.26" width="16" height="14.5" fill="#606060"/><rect x="96" y="471.26" width="16" height="14.5" fill="#5a5a5a"/>
<rect x="48" y="485.68" width="16" height="14.5" fill="#383838"/><rect x="80" y="485.68" width="16" height="14.5" fill="#5a5a5a"/><rect x="96" y="485.68" width="16" height="14.5" fill="#606060"/><rect x="144" y="485.68" width="16" height="14.5" fill="#333"/>
<rect x="48" y="500.11" width="16" height="14.5" fill="#3a3a3a"/><rect x="80" y="500.11" width="16" height="14.5" fill="#5a5a5a"/><rect x="96" y="500.11" width="16" height="14.5" fill="#5e5e5e"/><rect x="144" y="500.11" width="16" height="14.5" fill="#333"/>
<rect x="48" y="514.53" width="16" height="14.5" fill="#333"/><rect x="64" y="514.53" width="16" height="14.5" fill="#3a3a3a"/><rect x="80" y="514.53" width="16" height="14.5" fill="#383838"/><rect x="96" y="514.53" width="16" height="14.5" fill="#3c3c3c"/><rect x="144" y="514.53" width="16" height="14.5" fill="#333"/>
<rect x="48" y="528.95" width="16" height="14.5" fill="#6a6a6a"/><rect x="144" y="528.95" width="16" height="14.5" fill="#5a5a5a"/><rect x="160" y="528.95" width="16" height="14.5" fill="#6a6a6a"/>
<rect x="144" y="543.37" width="16" height="14.5" fill="#333"/>
<rect x="144" y="557.79" width="16" height="14.5" fill="#5a5a5a"/>
<rect x="112" y="572.21" width="16" height="14.5" fill="#555"/>
<rect x="112" y="586.63" width="16" height="14.5" fill="#666"/>
<rect x="64" y="601.05" width="16" height="14.5" fill="#606060"/><rect x="128" y="601.05" width="16" height="14.5" fill="#333"/>
<rect x="128" y="615.47" width="16" height="14.5" fill="#3a3a3a"/>
<rect x="128" y="629.89" width="16" height="14.5" fill="#666"/><rect x="160" y="629.89" width="16" height="14.5" fill="#444"/>
<rect x="48" y="644.32" width="16" height="14.5" fill="#4a4a4a"/><rect x="80" y="644.32" width="16" height="14.5" fill="#5a5a5a"/><rect x="96" y="644.32" width="16" height="14.5" fill="#333"/><rect x="128" y="644.32" width="16" height="14.5" fill="#444"/>
<rect x="80" y="658.74" width="16" height="14.5" fill="#666"/><rect x="96" y="658.74" width="16" height="14.5" fill="#555"/><rect x="160" y="658.74" width="16" height="14.5" fill="#444"/>
<rect x="48" y="673.16" width="16" height="14.5" fill="#444"/><rect x="80" y="673.16" width="16" height="14.5" fill="#606060"/><rect x="112" y="673.16" width="16" height="14.5" fill="#333"/><rect x="128" y="673.16" width="16" height="14.5" fill="#333"/><rect x="160" y="673.16" width="16" height="14.5" fill="#444"/>
<rect x="80" y="687.58" width="16" height="14.42" fill="#3a3a3a"/><rect x="96" y="687.58" width="16" height="14.42" fill="#333"/><rect x="112" y="687.58" width="16" height="14.42" fill="#383838"/><rect x="128" y="687.58" width="16" height="14.42" fill="#444"/><rect x="144" y="687.58" width="16" height="14.42" fill="#555"/>
<path d="M64 428V702M80 428V702M96 428V702M112 428V702M128 428V702M144 428V702M160 428V702M48 442.42H176M48 456.84H176M48 471.26H176M48 485.68H176M48 500.11H176M48 514.53H176M48 528.95H176M48 543.37H176M48 557.79H176M48 572.21H176M48 586.63H176M48 601.05H176M48 615.47H176M48 629.89H176M48 644.32H176M48 658.74H176M48 673.16H176M48 687.58H176" stroke="#111" stroke-width="0.9" fill="none"/>
<rect x="48" y="428" width="128" height="274" fill="none" stroke="#111" stroke-width="1.5"/>
</g>
<g id="dendrogram" fill="none" stroke="#444" stroke-width="1">
<path d="M48 435.2H46V449.6H48M48 464.1H39V478.5H48M46 442.4H32V471.3H39M48 492.9H43V507.3H48M43 500.1H37V521.7H48M32 456.9H24V510.9H37"/>
<path d="M48 550.6H44V565H48M48 536.2H39V557.8H44M48 579.4H45V593.9H48M39 547H36V586.6H45M48 622.7H46V637.1H48M48 608.3H41V629.9H46M36 566.8H31V619.1H41"/>
<path d="M48 651.5H36V666H48M48 680.4H41V694.8H48M36 658.7H30V687.6H41M24 483.9H22V593H31M22 538.5H20V673.1H30"/>
</g>
<g id="rowlabels">
<text class="rl" x="179" y="435.2">Cell projection organization</text>
<text class="rl" x="179" y="449.6">Plasma membrane bounded cell projection organization</text>
<text class="rl" x="179" y="464.1">Transmembrane receptor tyrosine kinase signaling pathway</text>
<text class="rl" x="179" y="478.5">Cell development</text>
<text class="rl" x="179" y="492.9">Extracellular matrix organization</text>
<text class="rl" x="179" y="507.3">External encapsulating structure organization</text>
<text class="rl" x="179" y="521.7">Intrinsic apoptotic signaling pathway</text>
<text class="rl" x="179" y="536.2">Response to hormone</text>
<text class="rl" x="179" y="550.6">Inflammatory response</text>
<text class="rl" x="179" y="565">Cytokine-mediated signaling pathway</text>
<text class="rl" x="179" y="579.4">Ion homeostasis</text>
<text class="rl" x="179" y="593.9">Chemical homeostasis</text>
<text class="rl" x="179" y="608.3">Peptidyl−tyrosine phosphorylation</text>
<text class="rl" x="179" y="622.7">Response to growth factor</text>
<text class="rl" x="179" y="637.1">Response to lipid</text>
<text class="rl" x="179" y="651.5">Chemotaxis</text>
<text class="rl" x="179" y="666">Muscle structure development</text>
<text class="rl" x="179" y="680.4">Homeostatic process</text>
<text class="rl" x="179" y="694.8">Cell chemotaxis</text>
</g>
<g id="collabels">
<text class="cl" transform="translate(60 709) rotate(-43)">Artery - Aorta</text>
<text class="cl" transform="translate(76 709) rotate(-43)">Artery - Coronary</text>
<text class="cl" transform="translate(92 709) rotate(-43)">Heart - Atrial Appendage</text>
<text class="cl" transform="translate(108 709) rotate(-43)">Heart - Left Ventricle</text>
<text class="cl" transform="translate(124 709) rotate(-43)">Kidney - Cortex</text>
<text class="cl" transform="translate(140 709) rotate(-43)">Kidney - Medulla</text>
<text class="cl" transform="translate(156 709) rotate(-43)">Liver</text>
<text class="cl" transform="translate(172 709) rotate(-43)">Lung</text>
</g>
<g id="colorbar">
<text class="ff" x="340" y="732" font-size="9" text-anchor="middle" fill="#111">-log<tspan font-size="6" dy="1.5">10</tspan><tspan dy="-1.5">(P-value)</tspan></text>
<rect x="287" y="737" width="10.7" height="26" fill="#fff"/>
<rect x="297.7" y="737" width="10.7" height="26" fill="#dcdcdc"/>
<rect x="308.4" y="737" width="10.7" height="26" fill="#c4c4c4"/>
<rect x="319.1" y="737" width="10.7" height="26" fill="#aeaeae"/>
<rect x="329.8" y="737" width="10.7" height="26" fill="#989898"/>
<rect x="340.5" y="737" width="10.7" height="26" fill="#838383"/>
<rect x="351.2" y="737" width="10.7" height="26" fill="#6e6e6e"/>
<rect x="361.9" y="737" width="10.7" height="26" fill="#5c5c5c"/>
<rect x="372.6" y="737" width="10.7" height="26" fill="#4a4a4a"/>
<rect x="383.3" y="737" width="10.7" height="26" fill="#383838"/>
<rect x="287" y="737" width="107" height="26" fill="none" stroke="#111" stroke-width="1"/>
<text class="ff" x="273" y="775" font-size="8.5" fill="#333">Not sig.</text>
<text class="ff" x="367" y="776" font-size="8.5" fill="#333">Significant</text>
</g>

<!-- ================= PANEL C ================= -->
<text class="pl" x="469" y="431">C</text>
<g id="legendC1">
<rect x="600" y="443" width="40" height="6" fill="#f25c3c"/>
<text class="lg" x="647" y="446">positive correlation</text>
<rect x="600" y="463" width="40" height="7" fill="url(#hatch)"/>
<text class="lg" x="647" y="466">negative correlation</text>
</g>
<g id="connectorsC" stroke-linecap="butt">
<path class="ce1" stroke-width="6" d="M546 466L532 504M532 504L555 544M740 519L698 544"/>
<path class="ce1" stroke-width="5" d="M595 519L662 519M595 519L658 564M698 544L702 607M758 583L702 607M535 616L578 656M602 619L645 685"/>
<path class="ce1" stroke-width="4" d="M506 536L555 544M555 544L578 656M524 580L658 564M702 607L711 674"/>
<path class="ce1" stroke-width="3" d="M595 519L535 616M662 519L602 619M702 607L687 655"/>
<path class="ce1" stroke-width="2" d="M572 499L555 544M595 519L555 544M555 544L524 580M555 544L655 636M662 519L698 544M662 519L579 593M662 519L702 607M658 564L702 607M731 570L702 607M524 580L535 616M702 607L645 685M602 703L645 685"/>
<path class="ce1" stroke-width="1.4" d="M555 544L579 593M485 580L524 580M698 544L658 564M745 610L702 607M535 616L702 607M687 655L645 685M711 674L645 685"/>
<path class="ce1" stroke-width="6" d="M579 593L702 607"/>
<path class="ce1" stroke-width="7" d="M602 619L702 607M578 656L645 685"/>
<path class="ce1" stroke-width="9" d="M698 544L655 636"/>
<path class="ce1" stroke-width="8" d="M655 636L645 685"/>
<path stroke="#f9c2b4" stroke-width="2" d="M702 607L746 635"/>
<path stroke="#f39a7a" stroke-width="6" stroke-dasharray="1.2 1.2" d="M483 486L532 504"/>
</g>
<g id="edgelabelsC">
<text class="ew" x="541" y="485">0.84</text>
<text class="ew" x="509" y="495">0.76</text>
<text class="ew" x="543" y="524">0.88</text>
<text class="ew" x="629" y="520">0.58</text>
<text class="ew" x="626" y="543">0.62</text>
<text class="ew" x="720" y="533">0.88</text>
<text class="ew" x="701" y="577">0.67</text>
<text class="ew" x="667" y="599">1.01</text>
<text class="ew" x="642" y="600">0.66</text>
<text class="ew" x="653" y="613">0.8</text>
<text class="ew" x="557" y="637">0.59</text>
<text class="ew" x="623" y="653">0.56</text>
<text class="ew" x="649" y="662">0.9</text>
<text class="ew" x="611" y="672">1.06</text>
</g>
<g id="nodesC">
<g id="c-ivs"><circle class="ce" cx="546" cy="466" r="9.5"/><text class="ct" x="546" y="466">IVS</text></g>
<g id="c-ep"><circle class="ce" cx="483" cy="486" r="10"/><text class="ct" x="483" y="486">e'</text></g>
<g id="c-capg"><circle class="cp" cx="532" cy="504" r="9.5"/><text class="ct" x="532" y="504">CAPG</text></g>
<g id="c-b2m"><circle class="cp" cx="572" cy="499" r="9.5"/><text class="ct" x="572" y="499">B2M</text></g>
<g id="c-bmp10"><circle class="cp" cx="595" cy="519" r="9.5"/><text class="ct" x="595" y="519">BMP10</text></g>
<g id="c-anp"><circle class="cc" cx="662" cy="519" r="10"/><text class="ct" x="662" y="519">ANP</text></g>
<g id="c-relt"><circle class="cp" cx="740" cy="519" r="9.5"/><text class="ct" x="740" y="519">RELT</text></g>
<g id="c-tff3"><circle class="cp" cx="506" cy="536" r="9.5"/><text class="ct" x="506" y="536">TFF3</text></g>
<g id="c-ntproanp"><circle class="cc" cx="555" cy="544" r="11"/><text class="ct" x="555" y="544">NT-proANP</text></g>
<g id="c-lvmi"><circle class="ce" cx="698" cy="544" r="10"/><text class="ct" x="698" y="544">LVMI</text></g>
<g id="c-la"><circle class="ce" cx="658" cy="564" r="10"/><text class="ct" x="658" y="564">LA area</text></g>
<g id="c-angpt2"><circle class="cp" cx="731" cy="570" r="9.5"/><text class="ct" x="731" y="570">ANGPT2</text></g>
<g id="c-figf"><circle class="cp" cx="758" cy="583" r="9.5"/><text class="ct" x="758" y="583">FIGF</text></g>
<g id="c-lvesvi"><circle class="ce" cx="485" cy="580" r="10"/><text class="ct" x="485" y="580">LVESVi</text></g>
<g id="c-gdf15"><circle class="cp" cx="524" cy="580" r="9.5"/><text class="ct" x="524" y="580">GDF15</text></g>
<g id="c-igfbp2"><circle class="cp" cx="579" cy="593" r="9.5"/><text class="ct" x="579" y="593">IGFBP2</text></g>
<g id="c-bnp"><circle class="cc" cx="702" cy="607" r="10"/><text class="ct" x="702" y="607">BNP</text></g>
<g id="c-lvidsi"><circle class="ce" cx="745" cy="610" r="10"/><text class="ct" x="745" y="610">LVIDSi</text></g>
<g id="c-ntprobnp"><circle class="cc" cx="535" cy="616" r="11"/><text class="ct" x="535" y="616">NT-proBNP</text></g>
<g id="c-rspo4"><circle class="cp" cx="602" cy="619" r="9.5"/><text class="ct" x="602" y="619">RSPO4</text></g>
<g id="c-fstl3"><circle class="cp" cx="655" cy="636" r="9.5"/><text class="ct" x="655" y="636">FSTL3</text></g>
<g id="c-lvef"><circle class="ce" cx="746" cy="635" r="10"/><text class="ct" x="746" y="635">LVEF</text></g>
<g id="c-spon1"><circle class="cp" cx="687" cy="655" r="9.5"/><text class="ct" x="687" y="655">SPON1</text></g>
<g id="c-efemp1"><circle class="cp" cx="578" cy="656" r="9.5"/><text class="ct" x="578" y="656">EFEMP1</text></g>
<g id="c-thbs2"><circle class="cp" cx="711" cy="674" r="9.5"/><text class="ct" x="711" y="674">THBS2</text></g>
<g id="c-ee"><circle class="ce" cx="645" cy="685" r="11"/><text class="ct" x="645" y="685">E/e'</text></g>
<g id="c-pth"><circle class="cp" cx="602" cy="703" r="9.5"/><text class="ct" x="602" y="703">PTH</text></g>
</g>
<g id="legendC2">
<circle class="cp" cx="493" cy="733" r="5.5"/><text class="lg" x="503" y="733">Protein</text>
<circle class="cc" cx="493" cy="748" r="5.5"/><text class="lg" x="503" y="748">Clinical biomarker</text>
<circle class="ce" cx="493" cy="763" r="5.5"/><text class="lg" x="503" y="763">Echo imaging parameter</text>
</g>
</svg>
